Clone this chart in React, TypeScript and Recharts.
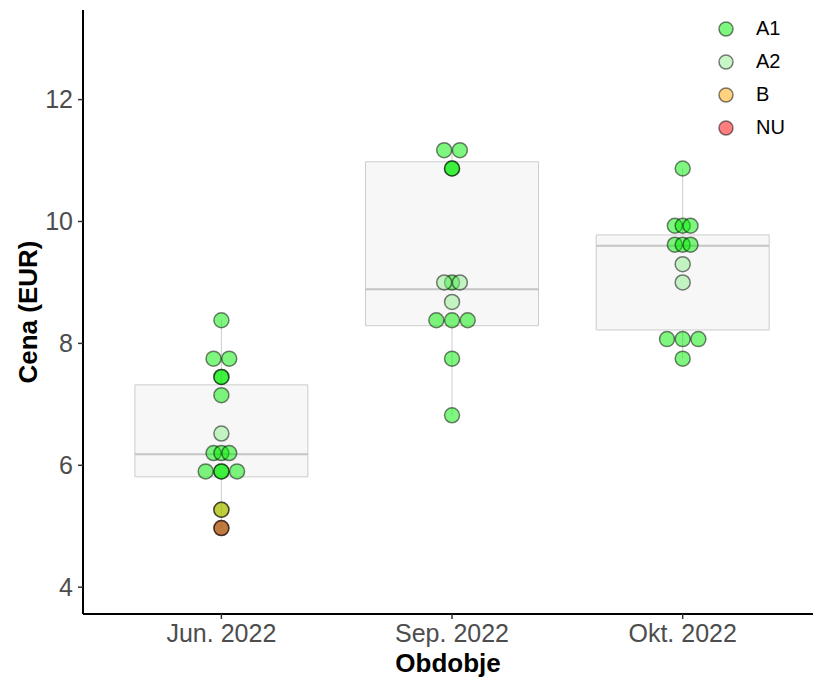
import React from "react";
import {
  ComposedChart,
  Scatter,
  XAxis,
  YAxis,
  ReferenceArea,
  ReferenceLine,
  Legend,
} from "recharts";

// categories on the x axis
const periods = ["Jun. 2022", "Sep. 2022", "Okt. 2022"];
const yTicks = [4, 6, 8, 10, 12];

// boxplot stats per period
const q1 = [5.81, 8.29, 8.22];
const medians = [6.18, 8.89, 9.6];
const q3 = [7.32, 10.98, 9.78];
const whiskerLow = [4.97, 6.82, 7.75];
const whiskerHigh = [8.38, 11.17, 10.87];

// price points: value, swarm slot (dodge rank), class
const junPoints = [
  { v: 8.38, slot: 0, g: "A1" },
  { v: 7.75, slot: -1, g: "A1" },
  { v: 7.75, slot: 1, g: "A1" },
  { v: 7.45, slot: 0, g: "A1" },
  { v: 7.45, slot: 0, g: "A1" },
  { v: 7.15, slot: 0, g: "A1" },
  { v: 6.52, slot: 0, g: "A2" },
  { v: 6.2, slot: -1, g: "A1" },
  { v: 6.2, slot: 0, g: "A1" },
  { v: 6.2, slot: 1, g: "A1" },
  { v: 5.9, slot: -2, g: "A1" },
  { v: 5.9, slot: 0, g: "A1" },
  { v: 5.9, slot: 0, g: "A1" },
  { v: 5.9, slot: 2, g: "A1" },
  { v: 5.27, slot: 0, g: "A1" },
  { v: 5.27, slot: 0, g: "B" },
  { v: 4.97, slot: 0, g: "A1" },
  { v: 4.97, slot: 0, g: "NU" },
];

const sepPoints = [
  { v: 11.17, slot: -1, g: "A1" },
  { v: 11.17, slot: 1, g: "A1" },
  { v: 10.87, slot: 0, g: "A1" },
  { v: 10.87, slot: 0, g: "A1" },
  { v: 9.0, slot: -1, g: "A2" },
  { v: 9.0, slot: 0, g: "A1" },
  { v: 9.0, slot: 1, g: "A2" },
  { v: 8.68, slot: 0, g: "A2" },
  { v: 8.38, slot: -2, g: "A1" },
  { v: 8.38, slot: 0, g: "A1" },
  { v: 8.38, slot: 2, g: "A1" },
  { v: 7.75, slot: 0, g: "A1" },
  { v: 6.82, slot: 0, g: "A1" },
];

const oktPoints = [
  { v: 10.87, slot: 0, g: "A1" },
  { v: 9.93, slot: -1, g: "A1" },
  { v: 9.93, slot: 0, g: "A1" },
  { v: 9.93, slot: 1, g: "A1" },
  { v: 9.62, slot: -1, g: "A1" },
  { v: 9.62, slot: 0, g: "A1" },
  { v: 9.62, slot: 1, g: "A1" },
  { v: 9.3, slot: 0, g: "A2" },
  { v: 9.0, slot: 0, g: "A2" },
  { v: 8.07, slot: -2, g: "A1" },
  { v: 8.07, slot: 0, g: "A1" },
  { v: 8.07, slot: 2, g: "A1" },
  { v: 7.75, slot: 0, g: "A1" },
];

const classes = ["A1", "A2", "B", "NU"];
const classColors: Record<string, string> = {
  A1: "#00ee00",
  A2: "#90ee90",
  B: "#ffa500",
  NU: "#ff0000",
};

const SWARM_STEP = 0.034;
const BOX_HALF = 0.375;
const ALPHA = 0.5;
const FONT = "'Liberation Sans', Arial, Helvetica, sans-serif";

const allPoints = [junPoints, sepPoints, oktPoints].flatMap((pts, i) =>
  pts.map((p) => ({ x: i + 1 + p.slot * SWARM_STEP, y: p.v, g: p.g }))
);

const Dot = (props: any) => {
  const { cx, cy, fill } = props;
  if (cx == null || cy == null) return null;
  return (
    <circle
      cx={cx}
      cy={cy}
      r={7.5}
      fill={fill}
      fillOpacity={ALPHA}
      stroke="#000"
      strokeOpacity={ALPHA}
      strokeWidth={1.5}
    />
  );
};

const LegendBox = () => (
  <div style={{ fontFamily: FONT, fontSize: 20, color: "#000" }}>
    {classes.map((c) => (
      <div key={c} style={{ display: "flex", alignItems: "center", height: 33 }}>
        <svg width={30} height={20} style={{ display: "block" }}>
          <circle
            cx={13}
            cy={10}
            r={7}
            fill={classColors[c]}
            fillOpacity={ALPHA}
            stroke="#000"
            strokeOpacity={ALPHA}
            strokeWidth={1.5}
          />
        </svg>
        <span style={{ marginLeft: 13 }}>{c}</span>
      </div>
    ))}
  </div>
);

const YTitle = (props: any) => {
  const vb = props.viewBox || {};
  const cx = 28;
  const cy = (vb.y ?? 10) + (vb.height ?? 604) / 2;
  return (
    <text
      x={cx}
      y={cy}
      transform={`rotate(-90, ${cx}, ${cy})`}
      textAnchor="middle"
      dominantBaseline="central"
      style={{ fontFamily: FONT, fontSize: 26, fontWeight: 700, fill: "#000" }}
    >
      Cena (EUR)
    </text>
  );
};

const XTitle = (props: any) => {
  const vb = props.viewBox || {};
  const cx = (vb.x ?? 83) + (vb.width ?? 730) / 2;
  return (
    <text
      x={cx}
      y={663}
      textAnchor="middle"
      dominantBaseline="central"
      style={{ fontFamily: FONT, fontSize: 26, fontWeight: 700, fill: "#000" }}
    >
      Obdobje
    </text>
  );
};

export default function App() {
  return (
    <div style={{ position: "absolute", left: 0, top: 0, width: 813, height: 680, background: "#fff" }}>
      <ComposedChart width={813} height={680} margin={{ top: 10, right: 0, bottom: 0, left: 0 }}>
        <XAxis
          type="number"
          dataKey="x"
          domain={[0.4, 3.565]}
          ticks={[1, 2, 3]}
          allowDataOverflow
          tickFormatter={(v: number) => periods[v - 1] ?? ""}
          height={66}
          tickSize={5}
          tickMargin={5}
          tick={{ fontFamily: FONT, fontSize: 25, fill: "#4d4d4d" }}
          tickLine={{ stroke: "#333", strokeWidth: 1.5 }}
          axisLine={{ stroke: "#000", strokeWidth: 2 }}
          label={<XTitle />}
        />
        <YAxis
          type="number"
          dataKey="y"
          domain={[3.56, 13.47]}
          ticks={yTicks}
          allowDataOverflow
          width={83}
          tickSize={5}
          tickMargin={5}
          tick={{ fontFamily: FONT, fontSize: 25, fill: "#4d4d4d" }}
          tickLine={{ stroke: "#333", strokeWidth: 1.5 }}
          axisLine={{ stroke: "#000", strokeWidth: 2 }}
          label={<YTitle />}
        />

        {periods.map((p, i) => (
          <ReferenceLine
            key={`wl-${p}`}
            segment={[
              { x: i + 1, y: whiskerLow[i] },
              { x: i + 1, y: q1[i] },
            ]}
            stroke="#cccccc"
            strokeWidth={1}
          />
        ))}
        {periods.map((p, i) => (
          <ReferenceLine
            key={`wh-${p}`}
            segment={[
              { x: i + 1, y: q3[i] },
              { x: i + 1, y: whiskerHigh[i] },
            ]}
            stroke="#cccccc"
            strokeWidth={1}
          />
        ))}
        {periods.map((p, i) => (
          <ReferenceArea
            key={`box-${p}`}
            x1={i + 1 - BOX_HALF}
            x2={i + 1 + BOX_HALF}
            y1={q1[i]}
            y2={q3[i]}
            fill="#f7f7f7"
            fillOpacity={1}
            stroke="#cccccc"
            strokeWidth={1}
          />
        ))}
        {periods.map((p, i) => (
          <ReferenceLine
            key={`med-${p}`}
            segment={[
              { x: i + 1 - BOX_HALF, y: medians[i] },
              { x: i + 1 + BOX_HALF, y: medians[i] },
            ]}
            stroke="#c4c4c4"
            strokeWidth={2}
          />
        ))}

        {classes.map((c) => (
          <Scatter
            key={c}
            name={c}
            data={allPoints.filter((p) => p.g === c)}
            fill={classColors[c]}
            shape={<Dot />}
            isAnimationActive={false}
          />
        ))}

        <Legend
          layout="vertical"
          align="center"
          verticalAlign="middle"
          content={<LegendBox />}
          wrapperStyle={{ position: "absolute", left: 713, top: 12, width: 100, height: 140 }}
        />
      </ComposedChart>
    </div>
  );
}
